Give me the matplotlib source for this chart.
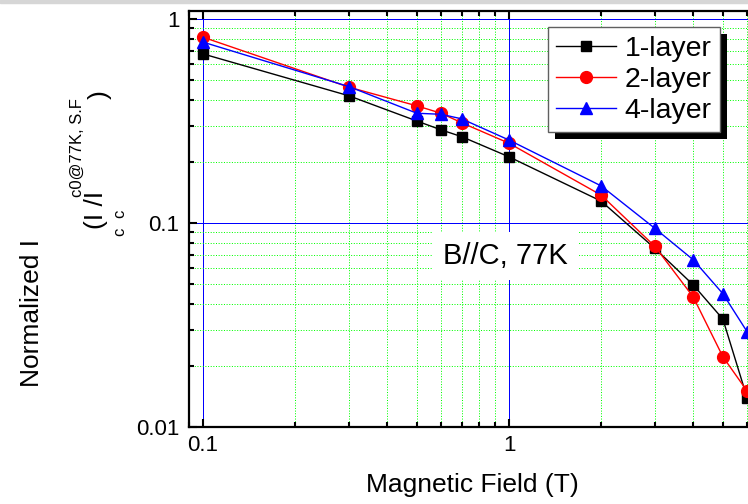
# -*- coding: utf-8 -*-
# normalized Ic vs field, log-log
import numpy as np
import matplotlib
matplotlib.use('Agg')
import matplotlib.pyplot as plt
from matplotlib import ticker
from matplotlib.patches import Rectangle
from matplotlib.transforms import IdentityTransform

plt.rcParams['font.family'] = ['Liberation Sans', 'DejaVu Sans']

field = [0.1, 0.3, 0.5, 0.6, 0.7, 1, 2, 3, 4, 5, 6]
ic_1layer = [0.674, 0.42, 0.316, 0.286, 0.265, 0.211, 0.128, 0.075, 0.0497, 0.0338, 0.0139]
ic_2layer = [0.814, 0.463, 0.375, 0.345, 0.31, 0.246, 0.137, 0.0767, 0.0434, 0.0221, 0.015]
ic_4layer = [0.77, 0.466, 0.345, 0.341, 0.324, 0.255, 0.152, 0.094, 0.066, 0.045, 0.0293]
labels = ['1-layer', '2-layer', '4-layer']

W, H = 748, 504
def px(x, y):
    return x / W, 1 - y / H

fig = plt.figure(figsize=(7.48, 5.04), dpi=100)
fig.patches.append(Rectangle((0, 1 - 3 / H), 1, 3 / H, transform=fig.transFigure,
                             color='#d6d6d6', zorder=0))
ax = fig.add_axes([189 / W, 77 / H, (815 - 189) / W, (427 - 11) / H])

ax.plot(field, ic_1layer, 'k-s', lw=1, ms=7.5, label=labels[0])
ax.plot(field, ic_2layer, '-o', color='red', lw=1, ms=8.5, label=labels[1])
ax.plot(field, ic_4layer, '-^', color='blue', lw=1, ms=9, label=labels[2])

ax.set_xscale('log')
ax.set_yscale('log')
ax.set_xlim(0.09, 10)
ax.set_ylim(0.01, 1.094)

ax.set_xticks([0.1, 1, 10], ['0.1', '1', ''])
ax.set_yticks([0.01, 0.1, 1], ['0.01', '0.1', '1'])
ax.xaxis.set_minor_locator(ticker.LogLocator(subs=np.arange(2, 10)))
ax.yaxis.set_minor_locator(ticker.LogLocator(subs=np.arange(2, 10)))
ax.xaxis.set_minor_formatter(ticker.NullFormatter())
ax.yaxis.set_minor_formatter(ticker.NullFormatter())
ax.tick_params(which='both', direction='in', top=True, right=True, width=1.5, labelsize=16)
ax.tick_params(which='major', length=6)
ax.tick_params(which='minor', length=3.5)
ax.tick_params(axis='x', pad=6)
ax.tick_params(axis='y', pad=7)
for s in ax.spines.values():
    s.set_linewidth(1.6)

ax.set_axisbelow(True)
ax.grid(which='major', color='#0000ff', ls='-', lw=0.72)
ax.grid(which='minor', color='#00ff00', ls=':', lw=0.72)

ax.text(0.97, 0.069, 'B//C, 77K', fontsize=21, ha='center', va='center',
        bbox=dict(facecolor='white', edgecolor='none', boxstyle='square,pad=0.35'))

fig.text(*px(472, 485), 'Magnetic Field (T)', fontsize=19, ha='center', va='center')

# y label pieces
fig.text(*px(32, 313), 'Normalized I', fontsize=19, rotation=90, ha='center', va='center')
fig.text(*px(96, 210), '(I /I', fontsize=19, rotation=90, ha='center', va='center')
fig.text(*px(120, 232), 'c', fontsize=12, rotation=90, ha='center', va='center')
fig.text(*px(120, 214), 'c', fontsize=12, rotation=90, ha='center', va='center')
fig.text(*px(77, 148), 'c0@77K, S.F', fontsize=12, rotation=90, ha='center', va='center')
fig.text(*px(100, 95), ')', fontsize=19, rotation=90, ha='center', va='center')

leg = ax.legend(loc='upper right', bbox_to_anchor=px(720, 27), bbox_transform=fig.transFigure,
                fontsize=20.5, fancybox=False, framealpha=1, edgecolor='#606060',
                borderaxespad=0, borderpad=0.3, handlelength=2.1, handletextpad=0.3,
                labelspacing=0.18)
leg.get_frame().set_linewidth(1)
leg.set_zorder(6)

fig.canvas.draw()
bb = leg.get_window_extent()
shadow = Rectangle((bb.x0 + 7, bb.y0 - 7), bb.width, bb.height, transform=IdentityTransform(),
                   facecolor='black', edgecolor='none', zorder=5)
ax.add_patch(shadow)

fig.savefig('out.png', dpi=100)
